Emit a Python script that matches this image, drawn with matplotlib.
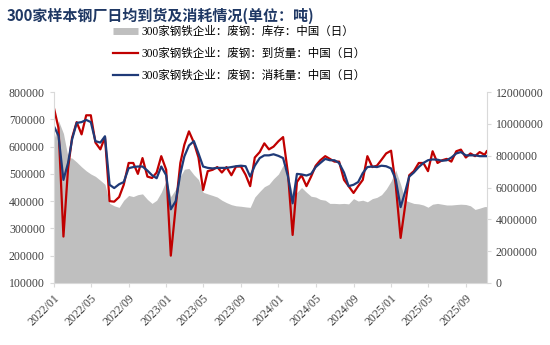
"""300 sample steel mills: daily scrap arrivals, consumption and inventory."""

import matplotlib

matplotlib.use("Agg")
import matplotlib.pyplot as plt
import pandas as pd
from matplotlib.lines import Line2D
from matplotlib.ticker import FuncFormatter, MultipleLocator

plt.rcParams["font.family"] = ["Liberation Serif", "Noto Sans CJK SC"]

TITLE = "300家样本钢厂日均到货及消耗情况(单位：吨)"
LABELS = (
    "300家钢铁企业：废钢：库存：中国（日）",
    "300家钢铁企业：废钢：到货量：中国（日）",
    "300家钢铁企业：废钢：消耗量：中国（日）",
)

DATES = [
    "2022-01-01", "2022-01-16", "2022-02-01", "2022-02-16", "2022-03-01", "2022-03-16",
    "2022-04-01", "2022-04-16", "2022-05-01", "2022-05-16", "2022-06-01", "2022-06-16",
    "2022-07-01", "2022-07-16", "2022-08-01", "2022-08-16", "2022-09-01", "2022-09-16",
    "2022-10-01", "2022-10-16", "2022-11-01", "2022-11-16", "2022-12-01", "2022-12-16",
    "2023-01-01", "2023-01-16", "2023-02-01", "2023-02-16", "2023-03-01", "2023-03-16",
    "2023-04-01", "2023-04-16", "2023-05-01", "2023-05-16", "2023-06-01", "2023-06-16",
    "2023-07-01", "2023-07-16", "2023-08-01", "2023-08-16", "2023-09-01", "2023-09-16",
    "2023-10-01", "2023-10-16", "2023-11-01", "2023-11-16", "2023-12-01", "2023-12-16",
    "2024-01-01", "2024-01-16", "2024-02-01", "2024-02-16", "2024-03-01", "2024-03-16",
    "2024-04-01", "2024-04-16", "2024-05-01", "2024-05-16", "2024-06-01", "2024-06-16",
    "2024-07-01", "2024-07-16", "2024-08-01", "2024-08-16", "2024-09-01", "2024-09-16",
    "2024-10-01", "2024-10-16", "2024-11-01", "2024-11-16", "2024-12-01", "2024-12-16",
    "2025-01-01", "2025-01-16", "2025-02-01", "2025-02-16", "2025-03-01", "2025-03-16",
    "2025-04-01", "2025-04-16", "2025-05-01", "2025-05-16", "2025-06-01", "2025-06-16",
    "2025-07-01", "2025-07-16", "2025-08-01", "2025-08-16", "2025-09-01", "2025-09-16",
    "2025-10-01", "2025-10-16", "2025-11-01", "2025-11-08",
]

# arrivals (t/day), left axis
ARRIVALS = [
    742000, 668000, 270000, 520000, 632000, 690000, 645000, 715000, 715000, 615000,
    590000, 635000, 400000, 398000, 415000, 460000, 540000, 540000, 500000, 558000,
    490000, 485000, 505000, 565000, 515000, 200000, 380000, 540000, 607000, 656000,
    615000, 560000, 441000, 510000, 515000, 525000, 505000, 525000, 495000, 527000,
    527000, 497000, 455000, 560000, 580000, 612000, 590000, 600000, 620000, 635000,
    500000, 276000, 470000, 495000, 455000, 490000, 530000, 550000, 565000, 555000,
    545000, 545000, 478000, 455000, 430000, 455000, 478000, 565000, 525000, 530000,
    552000, 575000, 585000, 460000, 265000, 385000, 495000, 510000, 540000, 540000,
    510000, 583000, 540000, 550000, 555000, 545000, 583000, 589000, 560000, 575000,
    565000, 580000, 570000, 583000,
]

# consumption (t/day), left axis
CONSUMPTION = [
    675000, 640000, 478000, 540000, 626000, 687000, 690000, 698000, 690000, 620000,
    615000, 638000, 460000, 448000, 462000, 470000, 521000, 525000, 527000, 527000,
    512000, 495000, 484000, 527000, 495000, 370000, 400000, 500000, 564000, 604000,
    620000, 575000, 527000, 522000, 520000, 522000, 522000, 522000, 525000, 528000,
    530000, 528000, 490000, 530000, 558000, 568000, 568000, 572000, 566000, 558000,
    490000, 392000, 500000, 498000, 494000, 500000, 525000, 540000, 555000, 550000,
    550000, 540000, 505000, 455000, 460000, 470000, 503000, 525000, 527000, 525000,
    530000, 528000, 520000, 480000, 378000, 435000, 490000, 505000, 525000, 540000,
    550000, 553000, 552000, 548000, 550000, 560000, 575000, 580000, 568000, 568000,
    568000, 565000, 565000, 565000,
]

# inventory (t), right axis
INVENTORY = [
    9000000, 10200000, 9400000, 7900000, 7850000, 7600000, 7300000, 7050000, 6850000, 6700000,
    6450000, 6200000, 5000000, 4850000, 4750000, 5200000, 5500000, 5430000, 5550000, 5600000,
    5250000, 5000000, 5200000, 5700000, 6450000, 5430000, 5900000, 6700000, 7150000, 7200000,
    6800000, 6500000, 5700000, 5600000, 5500000, 5400000, 5200000, 5050000, 4920000, 4850000,
    4820000, 4780000, 4750000, 5400000, 5750000, 6050000, 6200000, 6550000, 6850000, 7400000,
    6800000, 5550000, 5700000, 6000000, 5700000, 5450000, 5400000, 5250000, 5200000, 5000000,
    5000000, 4980000, 5000000, 4970000, 5300000, 5150000, 5200000, 5100000, 5300000, 5380000,
    5550000, 5900000, 6400000, 7100000, 6200000, 5200000, 5100000, 5000000, 4970000, 4900000,
    4760000, 4950000, 5000000, 4950000, 4900000, 4900000, 4930000, 4950000, 4930000, 4850000,
    4620000, 4700000, 4800000, 4800000,
]

TICK_DATES = [
    "2022-01-01", "2022-05-01", "2022-09-01", "2023-01-01", "2023-05-01", "2023-09-01",
    "2024-01-01", "2024-05-01", "2024-09-01", "2025-01-01", "2025-05-01", "2025-09-01",
]
TICK_LABELS = [
    "2022/01", "2022/05", "2022/09", "2023/01", "2023/05", "2023/09",
    "2024/01", "2024/05", "2024/09", "2025/01", "2025/05", "2025/09",
]

GRAY = "#BFBFBF"
RED = "#C00000"
BLUE = "#1F3A78"
SPINE = "#D9D9D9"
TEXT = "#404040"

dates = pd.to_datetime(DATES)

fig = plt.figure(figsize=(5.5, 3.45), dpi=100)
ax = fig.add_axes([0.098, 0.180, 0.787, 0.553])
ax2 = ax.twinx()
ax.set_zorder(ax2.get_zorder() + 1)
ax.patch.set_visible(False)

ax2.fill_between(dates, 0, INVENTORY, color=GRAY, linewidth=0)
ax.plot(dates, ARRIVALS, color=RED, linewidth=1.6)
ax.plot(dates, CONSUMPTION, color=BLUE, linewidth=1.6)

ax.set_xlim(dates[0], dates[-1])
ax.set_ylim(100000, 800000)
ax2.set_ylim(0, 12000000)
ax.yaxis.set_major_locator(MultipleLocator(100000))
ax2.yaxis.set_major_locator(MultipleLocator(2000000))
plain = FuncFormatter(lambda v, _p: f"{v:.0f}")
ax.yaxis.set_major_formatter(plain)
ax2.yaxis.set_major_formatter(plain)

ax.set_xticks(pd.to_datetime(TICK_DATES))
ax.set_xticklabels(TICK_LABELS, rotation=45, ha="right", va="top",
                   rotation_mode="anchor")

for a in (ax, ax2):
    for side in a.spines:
        a.spines[side].set_visible(False)
    a.tick_params(colors=SPINE, labelcolor=TEXT, labelsize=8.5, length=3,
                  width=0.8)
ax.spines["left"].set_visible(True)
ax.spines["bottom"].set_visible(True)
ax2.spines["right"].set_visible(True)
for spine in (ax.spines["left"], ax.spines["bottom"], ax2.spines["right"]):
    spine.set_color(SPINE)
    spine.set_linewidth(0.8)

handles = [
    Line2D([], [], color=GRAY, linewidth=5, solid_capstyle="butt"),
    Line2D([], [], color=RED, linewidth=1.6),
    Line2D([], [], color=BLUE, linewidth=1.6),
]
fig.legend(handles, LABELS, loc="upper left", bbox_to_anchor=(0.205, 0.925),
           frameon=False, fontsize=8.3, labelspacing=0.88, handlelength=2.2,
           handletextpad=0.3, borderpad=0, borderaxespad=0)

fig.text(0.012, 0.955, TITLE, fontsize=10.8, fontweight="bold", color="#1F3864",
         va="center", ha="left", family=["Noto Sans CJK SC"])

fig.savefig("out.png", dpi=100)
